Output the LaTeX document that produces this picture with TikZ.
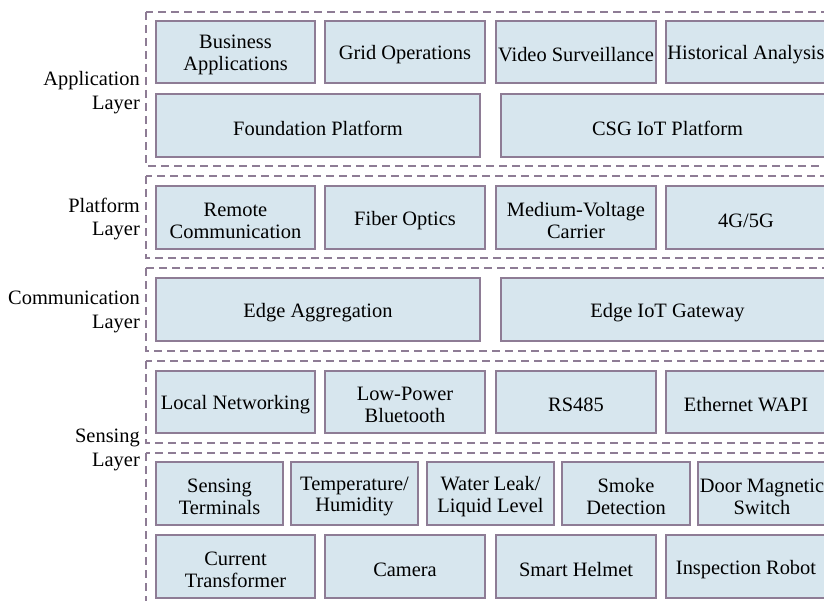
\documentclass[tikz,border=0pt]{standalone}
\usepackage{fontspec}
\setmainfont{Liberation Serif}
\definecolor{edge}{HTML}{8E7C95}
\definecolor{boxfill}{HTML}{D7E6EE}
\tikzset{
  bx/.style={draw=edge, fill=boxfill, line width=1.5bp, inner sep=0pt},
  txt/.style={inner sep=0pt, align=center, font=\fontsize{20.5}{22}\selectfont},
  grp/.style={draw=edge, line width=1.5bp, dash pattern=on 8bp off 5bp},
  lbl/.style={anchor=east, align=right, inner sep=0pt, font=\fontsize{20.5}{24}\selectfont}
}
\newcommand\bx[6]{\node[bx, minimum width={(#4-#2)*1bp}, minimum height={(#5-#3)*1bp}] (#1) at ({(#2+#4)/2},{(#3+#5)/2}) {};
\node[txt] (#1t) at ([yshift=-3bp]#1.center) {#6};}
\begin{document}
\begin{tikzpicture}[x=1bp,y=-1bp]
\useasboundingbox (0,0) rectangle (824,601);
\clip (0,0) rectangle (824,601);
% group frames
\draw[grp] (146,12) rectangle (834,166);
\draw[grp] (146,176) rectangle (834,258);
\draw[grp] (146,268) rectangle (834,351);
\draw[grp] (146,361) rectangle (834,443);
\draw[grp] (146,453) rectangle (834,612);
% layer labels
\node[lbl] (lapp) at (140,92.5) {Application\\Layer};
\node[lbl] (lplat) at (140,219) {Platform\\Layer};
\node[lbl] (lcomm) at (140,312) {Communication\\Layer};
\node[lbl] (lsens) at (140,450) {Sensing\\Layer};
% application layer
\bx{a1}{156}{21}{315}{83}{Business\\Applications}
\bx{a2}{325}{21}{485}{83}{Grid Operations}
\bx{a3}{496}{21}{656}{83}{Video Surveillance}
\bx{a4}{666}{21}{826}{83}{Historical Analysis}
\bx{a5}{156}{94}{480}{157}{Foundation Platform}
\bx{a6}{501}{94}{834}{157}{CSG IoT Platform}
% platform layer
\bx{p1}{156}{186}{315}{249}{Remote\\Communication}
\bx{p2}{325}{186}{485}{249}{Fiber Optics}
\bx{p3}{496}{186}{656}{249}{Medium-Voltage\\Carrier}
\bx{p4}{666}{186}{826}{249}{4G/5G}
% communication layer
\bx{c1}{156}{278}{480}{341}{Edge Aggregation}
\bx{c2}{501}{278}{834}{341}{Edge IoT Gateway}
% sensing layer
\bx{s1}{156}{371}{315}{433}{Local Networking}
\bx{s2}{325}{371}{485}{433}{Low-Power\\Bluetooth}
\bx{s3}{496}{371}{656}{433}{RS485}
\bx{s4}{666}{371}{826}{433}{Ethernet WAPI}
\bx{t1}{156}{462}{283}{525}{Sensing\\Terminals}
\bx{t2}{291}{462}{418}{525}{Temperature/\\Humidity}
\bx{t3}{427}{462}{554}{525}{Water Leak/\\Liquid Level}
\bx{t4}{562}{462}{690}{525}{Smoke\\Detection}
\bx{t5}{698}{462}{826}{525}{Door Magnetic\\Switch}
\bx{d1}{156}{535}{315}{598}{Current\\Transformer}
\bx{d2}{325}{535}{485}{598}{Camera}
\bx{d3}{496}{535}{656}{598}{Smart Helmet}
\bx{d4}{666}{535}{826}{598}{Inspection Robot}
\end{tikzpicture}
\end{document}
